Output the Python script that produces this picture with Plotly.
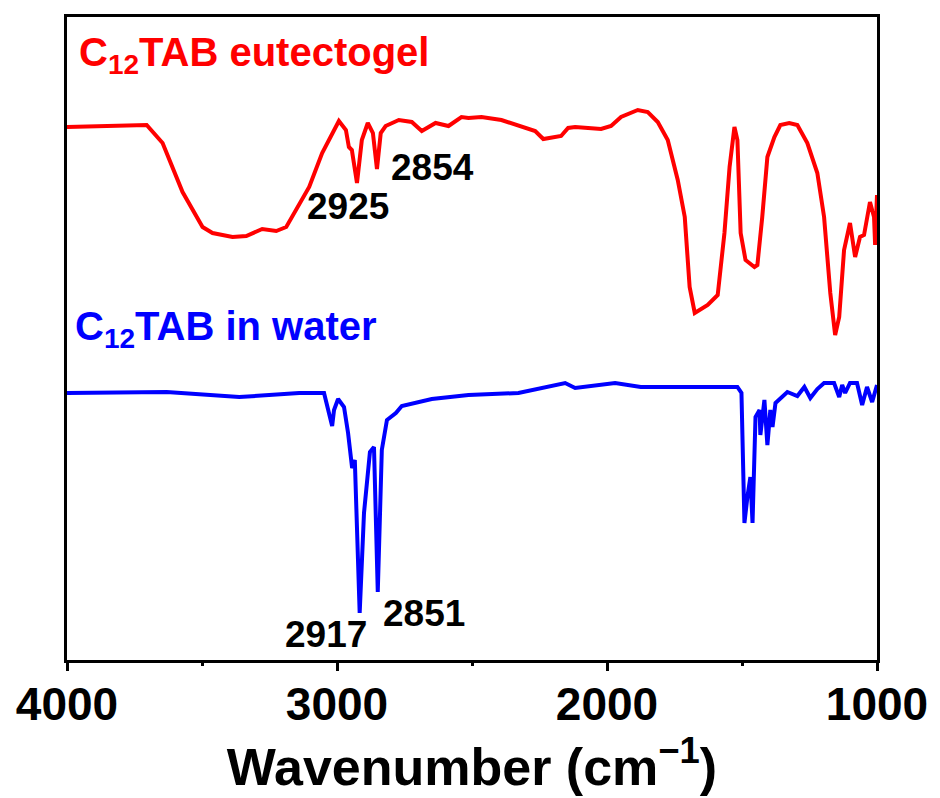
import plotly.graph_objects as go

# Red: C12TAB eutectogel (wavenumber, intensity a.u.)
red_wn = [4000, 3900, 3800, 3705, 3646, 3572, 3498, 3461, 3387, 3336, 3277, 3225, 3188, 3151, 3103,
          3055, 3022, 2993, 2967, 2956, 2945, 2926, 2908, 2886, 2867, 2852, 2838, 2820, 2771, 2723,
          2686, 2635, 2587, 2539, 2513, 2465, 2391, 2347, 2303, 2266, 2236, 2170, 2144, 2118, 2070,
          2022, 1985, 1948, 1886, 1849, 1812, 1775, 1738, 1712, 1694, 1675, 1627, 1590, 1565, 1546,
          1528, 1517, 1505, 1487, 1454, 1443, 1425, 1406, 1380, 1358, 1325, 1295, 1258, 1221, 1196,
          1173, 1155, 1140, 1122, 1100, 1081, 1063, 1048, 1026, 1011, 1007, 1000]
red_val = [533, 534, 535, 535, 517, 468, 433, 427, 423, 424, 431, 429, 433, 450, 473,
           507, 523, 539, 530, 513, 510, 477, 520, 537, 527, 491, 527, 534, 540, 538,
           529, 537, 534, 543, 542, 543, 540, 536, 532, 529, 521, 524, 532, 533, 532,
           531, 534, 543, 550, 548, 538, 520, 480, 443, 373, 347, 355, 365, 427, 493,
           533, 520, 427, 400, 393, 395, 443, 503, 523, 535, 537, 535, 517, 487, 443,
           367, 325, 343, 410, 437, 403, 423, 425, 458, 443, 415, 465]

# Blue: C12TAB in water
blue_wn = [4000, 3631, 3362, 3140, 3048, 3033, 3018, 3011, 2996, 2974, 2959, 2944, 2934, 2916, 2900,
           2878, 2863, 2849, 2834, 2815, 2782, 2760, 2649, 2513, 2450, 2328, 2155, 2118, 1970, 1875,
           1701, 1517, 1502, 1491, 1480, 1469, 1461, 1450, 1435, 1432, 1417, 1406, 1395, 1387, 1376,
           1332, 1295, 1269, 1247, 1221, 1196, 1159, 1140, 1129, 1118, 1100, 1074, 1055, 1037, 1018, 1000]
blue_val = [267, 268, 263, 267, 267, 252, 234, 250, 261, 253, 227, 192, 200, 47, 147,
            208, 213, 68, 210, 240, 247, 254, 261, 265, 266, 267, 277, 272, 277, 273,
            273, 273, 267, 137, 163, 183, 137, 243, 250, 225, 260, 215, 250, 233, 257,
            268, 264, 273, 262, 271, 277, 277, 263, 275, 267, 277, 277, 255, 273, 258, 275]

peak_labels = ["2925", "2854", "2917", "2851"]
peak_x = [2959, 2646, 3041, 2679]
peak_y = [454, 493, 26, 47]

series_names = ["C<sub>12</sub>TAB eutectogel", "C<sub>12</sub>TAB in water"]
tick_vals = [4000, 3000, 2000, 1000]
tick_text = ["4000", "3000", "2000", "1000"]
minor_vals = [3500, 2500, 1500]

FONT = "Liberation Sans, Arial, sans-serif"

fig = go.Figure()
fig.add_trace(go.Scatter(x=red_wn, y=red_val, mode="lines",
                         line=dict(color="#FF0000", width=4), showlegend=False))
fig.add_trace(go.Scatter(x=blue_wn, y=blue_val, mode="lines",
                         line=dict(color="#0000FF", width=4), showlegend=False))
# invisible helper trace on the tick-mark axis
fig.add_trace(go.Scatter(x=[4000, 1000], y=[0, 0], xaxis="x2", mode="lines",
                         line=dict(width=0), hoverinfo="skip", showlegend=False))

annotations = []
for t, x, y in zip(peak_labels, peak_x, peak_y):
    annotations.append(dict(x=x, y=y, xref="x", yref="y", text=f"<b>{t}</b>", showarrow=False,
                            font=dict(family=FONT, size=37, color="black"),
                            xanchor="center", yanchor="middle"))
annotations.append(dict(x=3963, y=605, xref="x", yref="y", text=f"<b>{series_names[0]}</b>",
                        showarrow=False, font=dict(family=FONT, size=40, color="#FF0000"),
                        xanchor="left", yanchor="middle"))
annotations.append(dict(x=3978, y=331, xref="x", yref="y", text=f"<b>{series_names[1]}</b>",
                        showarrow=False, font=dict(family=FONT, size=40, color="#0000FF"),
                        xanchor="left", yanchor="middle"))

fig.update_layout(
    width=940, height=798,
    margin=dict(l=67, r=60, t=17, b=138),
    paper_bgcolor="white", plot_bgcolor="white",
    annotations=annotations,
    xaxis=dict(range=[4000, 1000], showgrid=False, zeroline=False,
               showline=True, linecolor="black", linewidth=3, mirror=True,
               ticks="outside", ticklen=2, tickwidth=3, tickcolor="black",
               tickvals=tick_vals, ticktext=tick_text,
               tickfont=dict(family=FONT, size=46, color="black", weight="bold"),
               title=dict(text="<b>Wavenumber (cm<sup>\u22121</sup>)</b>",
                          font=dict(family=FONT, size=52, color="black"), standoff=16)),
    xaxis2=dict(range=[4000, 1000], overlaying="x", anchor="y", side="bottom",
                showgrid=False, zeroline=False, showline=False, showticklabels=False,
                ticks="outside", ticklen=10, tickwidth=3, tickcolor="black",
                tickvals=tick_vals,
                minor=dict(tickvals=minor_vals, ticks="outside", ticklen=5,
                           tickwidth=3, tickcolor="black")),
    yaxis=dict(range=[0, 643], showgrid=False, zeroline=False, showticklabels=False,
               showline=True, linecolor="black", linewidth=3, mirror=True, ticks=""),
)

fig.write_html("out.html")
